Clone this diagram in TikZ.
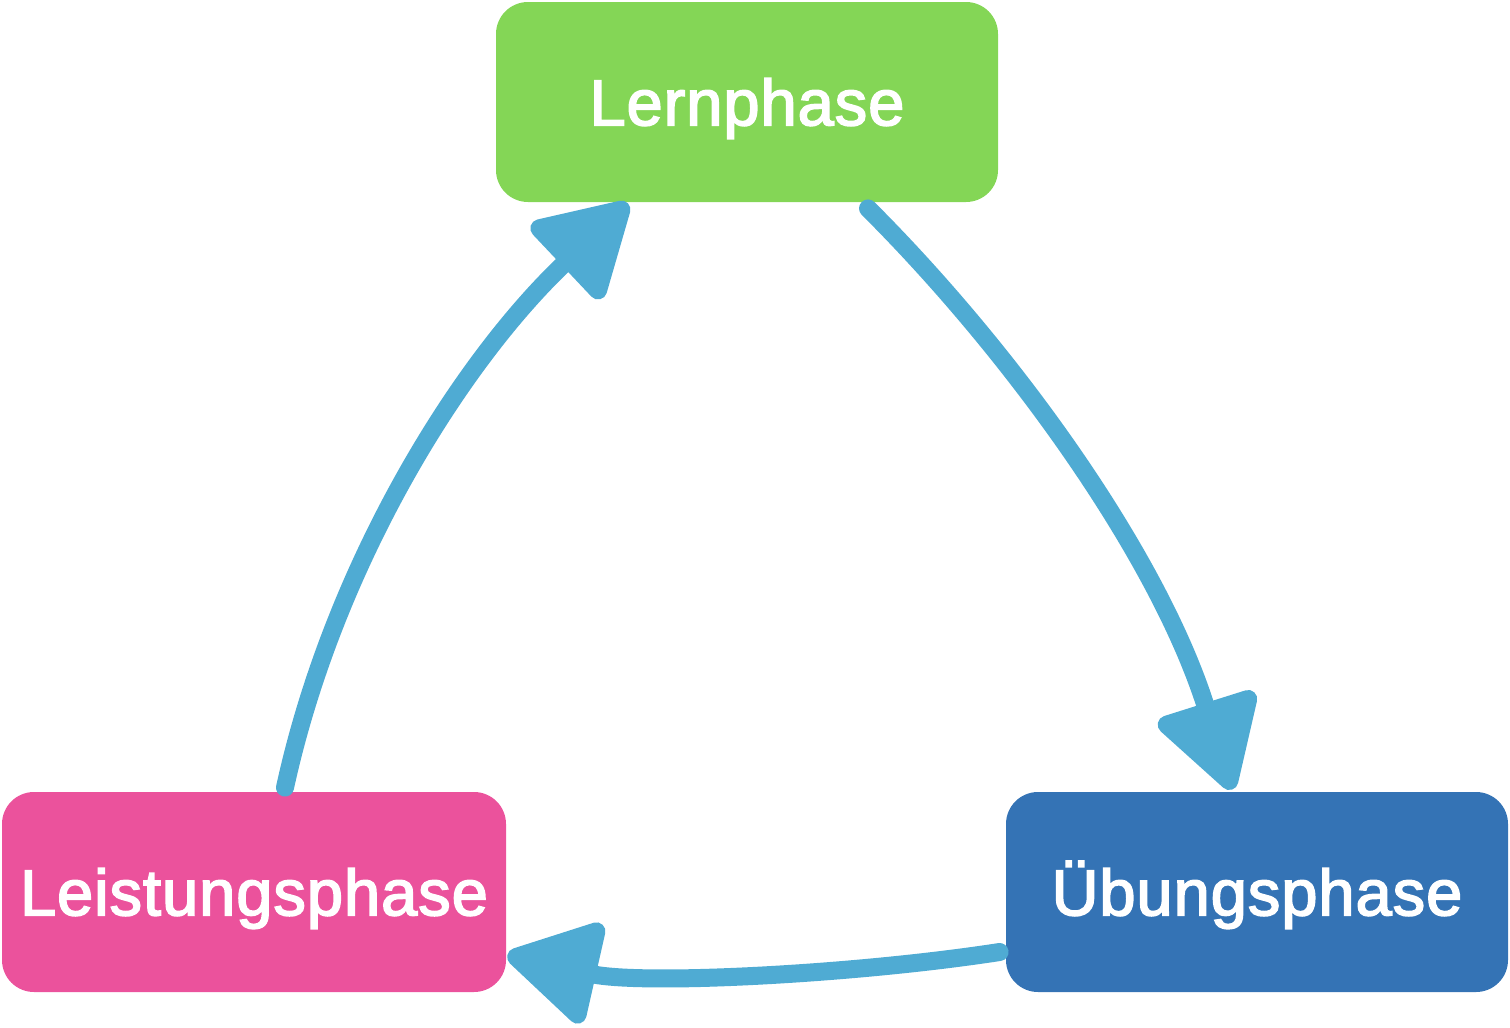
\documentclass[tikz,border=0pt]{standalone}
\usepackage{fontspec}
\setmainfont{Liberation Sans}
\newfontfamily\medfont[FakeBold=2.5,LetterSpace=1.5]{Liberation Sans}
\usetikzlibrary{arrows.meta}
\definecolor{lerngreen}{HTML}{84D656}
\definecolor{leistpink}{HTML}{EB529C}
\definecolor{uebblue}{HTML}{3473B5}
\definecolor{arrowblue}{HTML}{4FABD3}
\begin{document}
\begin{tikzpicture}[x=0.5pt,y=-0.5pt,
  phase/.style={rounded corners=16pt, minimum width=251pt, minimum height=100pt,
    inner sep=0pt, text=white, font=\medfont\fontsize{32.5}{33}\selectfont,
    text height=23.3pt, text depth=0pt},
  cyc/.style={draw=arrowblue, line width=9pt, line cap=round,
    -{Triangle[length=50pt,width=56pt,round]}}]
\useasboundingbox (0,0) rectangle (1510,1028);
\node[phase, fill=lerngreen] (lern) at (747,102) {Lernphase};
\node[phase, fill=leistpink, minimum width=252pt] (leis) at (254,892) {Leistungsphase};
\node[phase, fill=uebblue] (ueb) at (1257,892) {Übungsphase};
\draw[cyc] ([xshift=60.5pt,yshift=-3pt]lern.south)
  .. controls (1009,349) and (1157,552) .. ([xshift=-12.5pt,yshift=1pt]ueb.north);
\draw[cyc] ([xshift=-3pt,yshift=-30pt]ueb.west)
  .. controls (850,975) and (640,985) .. ([xshift=0.5pt,yshift=-31.5pt]leis.east);
\draw[cyc] ([xshift=15.5pt,yshift=2pt]leis.north)
  .. controls (334,563) and (461,361) .. ([xshift=-59.5pt,yshift=-0.5pt]lern.south);
\end{tikzpicture}
\end{document}
